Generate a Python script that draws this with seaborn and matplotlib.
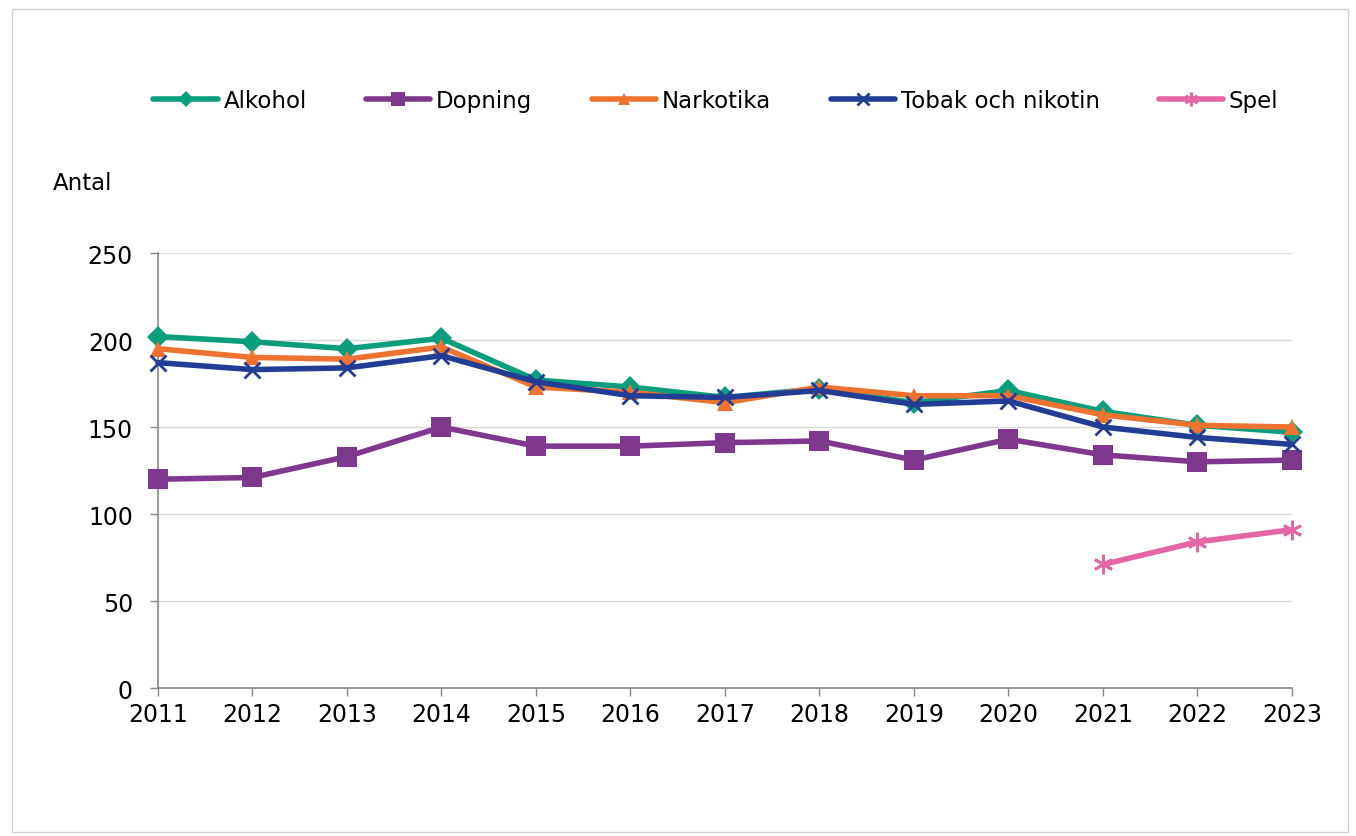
import numpy as np
import pandas as pd
import seaborn as sns
import matplotlib.pyplot as plt
from matplotlib.patches import Rectangle

years = list(range(2011, 2024))
alkohol = [202, 199, 195, 201, 177, 173, 167, 172, 164, 171, 159, 151, 147]
dopning = [120, 121, 133, 150, 139, 139, 141, 142, 131, 143, 134, 130, 131]
narkotika = [195, 190, 189, 196, 173, 170, 164, 173, 168, 168, 157, 151, 150]
tobak = [187, 183, 184, 191, 176, 168, 167, 171, 163, 165, 150, 144, 140]
spel_years = [2021, 2022, 2023]
spel = [71, 84, 91]

sns.set_theme(style="white")
plt.rcParams['font.family'] = ['DejaVu Sans']
plt.rcParams['text.color'] = 'black'

fig = plt.figure(figsize=(13.56, 8.37), dpi=100)
ax = fig.add_axes([0.1165, 0.1768, 0.8363, 0.5197])

series = [
    ("Alkohol", years, alkohol, "#0B9E7C", "D", 11),
    ("Dopning", years, dopning, "#7E388D", "s", 14),
    ("Narkotika", years, narkotika, "#EE7330", "^", 12),
    ("Tobak och nikotin", years, tobak, "#233D95", "x", 12),
    ("Spel", spel_years, spel, "#E566A4", (6, 2, 0), 14),
]
for name, xs, ys, color, marker, ms in series:
    df = pd.DataFrame({"År": xs, "Antal": ys})
    sns.lineplot(data=df, x="År", y="Antal", ax=ax, color=color, lw=4,
                 marker=marker, markersize=ms, markeredgecolor=color,
                 markeredgewidth=2 if marker in ("x", (6, 2, 0)) else 0,
                 label=name, clip_on=False, zorder=3)

ax.set_xlim(2011, 2023)
ax.set_ylim(0, 250)
ax.set_xticks(years)
ax.set_yticks(range(0, 251, 50))
ax.tick_params(axis="both", labelsize=17, length=6, width=1, colors="#888888",
               labelcolor="black", direction="out", bottom=True, left=True)
ax.tick_params(axis="x", pad=4)
ax.tick_params(axis="y", pad=12)
ax.grid(axis="y", color="#D9D9D9", lw=1)
for s in ["top", "right"]:
    ax.spines[s].set_visible(False)
for s in ["left", "bottom"]:
    ax.spines[s].set_color("#888888")
    ax.spines[s].set_linewidth(1.2)
ax.set_xlabel("")
ax.set_ylabel("")
ax.get_legend().remove()

fig.text(0.039, 0.781, "Antal", fontsize=16.5, color="black", ha="left", va="center")

handles, labels = ax.get_legend_handles_labels()
fig.legend(handles, labels, loc="center", bbox_to_anchor=(0.528, 0.879), ncol=5,
           frameon=False, fontsize=16.5, handlelength=2.8, columnspacing=2.6,
           handletextpad=0.25, markerscale=0.7, labelcolor="black")

fig.patches.append(Rectangle((0.009, 0.005), 0.985, 0.983, transform=fig.transFigure,
                             fill=False, edgecolor="#D0D0D0", lw=1))

fig.savefig("out.png", dpi=100)
